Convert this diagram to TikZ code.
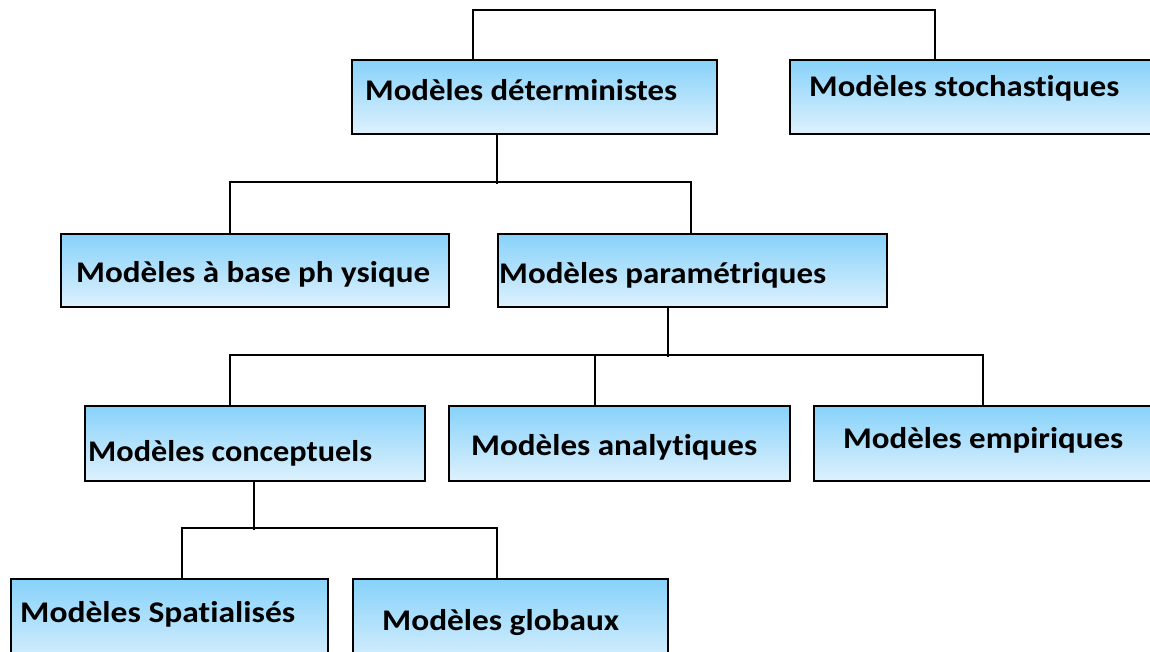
\documentclass[tikz,border=0pt]{standalone}
\usepackage{fontspec}
\usepackage{graphicx}
\usetikzlibrary{calc}
\setmainfont{Carlito}[Ligatures=NoCommon]
% set a label at its natural height, stretched or squeezed to a given width
\newcommand\fitlabel[2]{%
  \setbox0=\hbox{#2}%
  \pgfmathsetmacro\fitratio{#1/\wd0}%
  \scalebox{\fitratio}[1]{\box0}}
\tikzset{
  modelbox/.style={draw=black, line width=2.4pt, top color={rgb,255:red,135;green,210;blue,250},
    bottom color={rgb,255:red,222;green,241;blue,253}, inner sep=0pt, anchor=north west},
  modeltext/.style={anchor=base west, inner sep=0pt, font=\fontsize{30}{36}\selectfont\bfseries},
  link/.style={draw=black, line width=2.4pt}
}
\begin{document}
\begin{tikzpicture}[x=1pt,y=-1pt]
\useasboundingbox (0,0) rectangle (1150,651);
\clip (0,0) rectangle (1150,651);

% boxes
\node[modelbox, minimum width=365pt, minimum height=74pt] (det) at (351,59) {};
\node[modelbox, minimum width=380pt, minimum height=74pt] (sto) at (789,59) {};
\node[modelbox, minimum width=388pt, minimum height=73pt] (phy) at (60,233) {};
\node[modelbox, minimum width=389pt, minimum height=73pt] (par) at (497,233) {};
\node[modelbox, minimum width=340pt, minimum height=75pt] (con) at (84,405) {};
\node[modelbox, minimum width=341pt, minimum height=75pt] (ana) at (448,405) {};
\node[modelbox, minimum width=360pt, minimum height=75pt] (emp) at (813,405) {};
\node[modelbox, minimum width=317pt, minimum height=90pt] (spa) at (10,578) {};
\node[modelbox, minimum width=315pt, minimum height=90pt] (glo) at (352,578) {};

% labels
\node[modeltext] (tdet) at (365,100) {\fitlabel{312pt}{Modèles déterministes}};
\node[modeltext] (tsto) at (809,96) {\fitlabel{310pt}{Modèles stochastiques}};
\node[modeltext] (tphy) at (76,282) {\fitlabel{354pt}{Modèles à base ph ysique}};
\node[modeltext] (tpar) at (499,283) {\fitlabel{327pt}{Modèles paramétriques}};
\node[modeltext] (tcon) at (88,461) {\fitlabel{284pt}{Modèles conceptuels}};
\node[modeltext] (tana) at (471,455) {\fitlabel{286pt}{Modèles analytiques}};
\node[modeltext] (temp) at (843,448) {\fitlabel{280pt}{Modèles empiriques}};
\node[modeltext] (tspa) at (20,622) {\fitlabel{275pt}{Modèles Spatialisés}};
\node[modeltext] (tglo) at (382,630) {\fitlabel{237pt}{Modèles globaux}};

% tree connectors
\draw[link] ($(det.north west)+(122,0)$) |- ($(sto.north west)+(146,-49)$) -- ($(sto.north west)+(146,0)$);

\draw[link] ($(det.south west)+(146,0)$) -- ($(det.south west)+(146,49)$);
\draw[link] ($(phy.north west)+(170,0)$) |- ($(par.north west)+(194,-51)$) -- ($(par.north west)+(194,0)$);

\draw[link] ($(par.south west)+(171,0)$) -- ($(par.south west)+(171,49)$);
\draw[link] ($(con.north west)+(146,0)$) |- ($(emp.north west)+(170,-50)$) -- ($(emp.north west)+(170,0)$);
\draw[link] ($(ana.north west)+(147,0)$) -- ($(ana.north west)+(147,-50)$);

\draw[link] ($(con.south west)+(170,0)$) -- ($(con.south west)+(170,48)$);
\draw[link] ($(spa.north west)+(172,0)$) |- ($(glo.north west)+(145,-50)$) -- ($(glo.north west)+(145,0)$);
\end{tikzpicture}
\end{document}
